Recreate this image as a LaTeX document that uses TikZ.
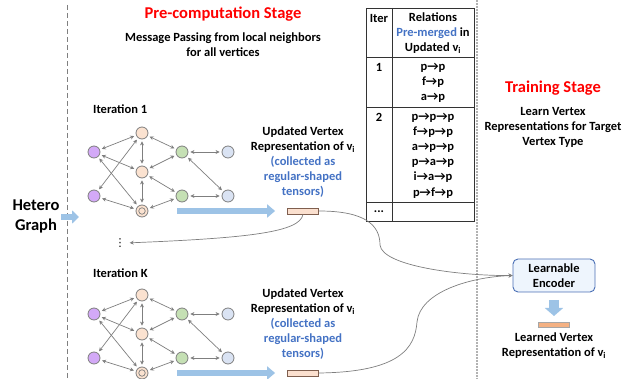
\documentclass[tikz,border=0pt]{standalone}
\usepackage{fontspec}
\setmainfont{Carlito}
\newfontfamily\symfont{DejaVu Sans}
\usetikzlibrary{arrows.meta}

\definecolor{stagered}{HTML}{FF0000}
\definecolor{noteblue}{HTML}{4472C4}
\definecolor{fatblue}{HTML}{9DC3E6}
\definecolor{vpurple}{HTML}{D3A9F7}
\definecolor{vpeach}{HTML}{FBE2D0}
\definecolor{vgreen}{HTML}{C5E0B4}
\definecolor{vblue}{HTML}{DAE3F3}
\definecolor{edgegray}{HTML}{7F7F7F}
\definecolor{tensorfill}{HTML}{FBE0CF}
\definecolor{tensordraw}{HTML}{7F5F4F}
\definecolor{learnfill}{HTML}{F4B183}
\definecolor{encfill}{HTML}{EEF5FD}
\definecolor{encdraw}{HTML}{4A6FB5}

\tikzset{
	vtx/.style={circle,draw=edgegray,line width=0.8pt,minimum size=12pt,inner sep=0pt},
	edge/.style={<->,edgegray,line width=0.7pt,shorten <=2pt,shorten >=2pt,
		>={Stealth[length=4pt,width=4pt]}},
	txt/.style={align=center,font=\fontsize{12.5}{15}\selectfont\bfseries,inner sep=0pt},
	title/.style={font=\fontsize{16.5}{20}\selectfont\bfseries,inner sep=0pt},
	fatarrow/.style={fatblue,line width=6pt,-{Triangle[length=8pt,width=13pt]}},
	tensor/.style={draw=tensordraw,fill=tensorfill,line width=0.8pt,minimum width=31pt,minimum height=6pt,inner sep=0pt},
	link/.style={->,edgegray,line width=0.7pt,>={Stealth[length=4pt,width=4pt]}},
}

\begin{document}
\begin{tikzpicture}[x=1pt,y=-1pt]
	\useasboundingbox (0,0) rectangle (641,379);
	
	% stage borders
	\draw[edgegray,line width=0.9pt,dash pattern=on 5pt off 3pt] (67,5) -- (67,379);
	\draw[gray!60,line width=1.6pt,dash pattern=on 2pt off 1pt] (477,0) -- (477,379);
	
	% titles
	\node[title,text=stagered] (pretitle) at (223,14) {Pre-computation Stage};
	\node[txt] (premsg) at (223,45) {Message Passing from local neighbors\\for all vertices};
	\node[title,text=stagered] (traintitle) at (553,88) {Training Stage};
	\node[txt] (trainmsg) at (553,127) {Learn Vertex\\Representations for Target\\Vertex Type};
	
	% input graph
	\node[title,align=center] (hetero) at (36,216) {Hetero\\Graph};
	\coordinate (hin) at (61,217);
	\coordinate (hout) at (79,217);
	\draw[fatblue,line width=6pt,-{Triangle[length=7pt,width=13pt]}] (hin) -- (hout);
	
	% iterations
	\node[txt,anchor=west] (it1) at (93,109) {Iteration 1};
	\node[txt,anchor=west] (itk) at (93,273) {Iteration K};
	
	\foreach \i/\dy in {1/0,2/162} {
		\node[vtx,fill=vpurple] (pa\i) at (94,152+\dy) {};
		\node[vtx,fill=vpurple] (pb\i) at (94,196+\dy) {};
		\node[vtx,fill=vpeach] (aa\i) at (142,133+\dy) {};
		\node[vtx,fill=vpeach] (ab\i) at (142,172+\dy) {};
		\node[vtx,fill=vpeach] (ac\i) at (142,211+\dy) {};
		\node[circle,draw=edgegray,line width=0.7pt,minimum size=6.5pt,inner sep=0pt] (acin\i) at (ac\i) {};
		\node[vtx,fill=vgreen] (ga\i) at (182,152+\dy) {};
		\node[vtx,fill=vgreen] (gb\i) at (182,196+\dy) {};
		\node[vtx,fill=vblue] (ba\i) at (228,152+\dy) {};
		\node[vtx,fill=vblue] (bb\i) at (228,196+\dy) {};
		
		\foreach \a/\b in {pa/aa,pa/ab,pa/ac,pb/aa,pb/ac,aa/ab,ab/ac,aa/ga,ab/ga,ab/gb,ac/gb,ga/ba,gb/bb,ga/bb}
		\draw[edge] (\a\i) -- (\b\i);
		
		\node[tensor] (t\i) at (303,211+\dy) {};
		\coordinate (fa\i) at (177,211+\dy);
		\draw[fatarrow] (fa\i) -- ([xshift=-12pt]t\i.west);
		\node[txt] (upd\i) at (303,162+\dy) {Updated Vertex\\Representation of v\textsubscript{i}\\
			\textcolor{noteblue}{(collected as}\\\textcolor{noteblue}{regular-shaped}\\\textcolor{noteblue}{tensors)}};
	}
	
	\node[inner sep=0pt,font=\symfont\fontsize{11}{11}\selectfont] (dots) at (120,243) {⋮};
	
	% relation table
	\draw[black!80,line width=0.9pt] (366,8) rectangle (474,221);
	\draw[black!80,line width=0.9pt] (392,8) -- (392,221);
	\draw[black!80,line width=0.9pt] (366,57) -- (474,57);
	\draw[black!80,line width=0.9pt] (366,107) -- (474,107);
	\draw[black!80,line width=0.9pt] (366,202) -- (474,202);
	\node[txt] (hiter) at (379,18) {Iter};
	\node[txt] (hrel) at (433,33) {Relations\\\textcolor{noteblue}{Pre-merged} in\\Updated v\textsubscript{i}};
	\node[txt] (rone) at (379,67) {1};
	\node[txt] (relone) at (433,83) {p→p\\f→p\\a→p};
	\node[txt] (rtwo) at (379,117) {2};
	\node[txt,font=\fontsize{12.5}{15.2}\selectfont\bfseries] (reltwo) at (433,155.5) {p→p→p\\f→p→p\\a→p→p\\p→a→p\\i→a→p\\p→f→p};
	\node[txt] (rmore) at (379,212) {...};
	
	% training side
	\node[txt,draw=encdraw,fill=encfill,line width=0.9pt,rounded corners=5pt,minimum width=82pt,minimum height=33pt] (enc) at (554,275.5) {Learnable\\Encoder};
	\coordinate (dtop) at (554,300);
	\coordinate (dbot) at (554,316);
	\draw[fatblue,line width=10pt,-{Triangle[length=8pt,width=18pt]}] (dtop) -- (dbot);
	\node[draw=gray!70,fill=learnfill,line width=0.7pt,minimum width=31pt,minimum height=5pt,inner sep=0pt] (learned) at (554,324.5) {};
	\node[txt] (learnedtxt) at (554,346) {Learned Vertex\\Representation of v\textsubscript{i}};
	
	% connectors
	\draw[link] (t1.east) .. controls (365,211) and (380,225) .. (380,245) .. controls (382,266) and (460,276) .. (enc.west);
	\draw[link] (t2.east) .. controls (400,372) and (415,348) .. (417,322) .. controls (420,292) and (470,277) .. (enc.west);
	\draw[link,shorten >=4pt] (t1.south) .. controls (300,232) and (250,238) .. (dots.east);
	
\end{tikzpicture}
\end{document}
